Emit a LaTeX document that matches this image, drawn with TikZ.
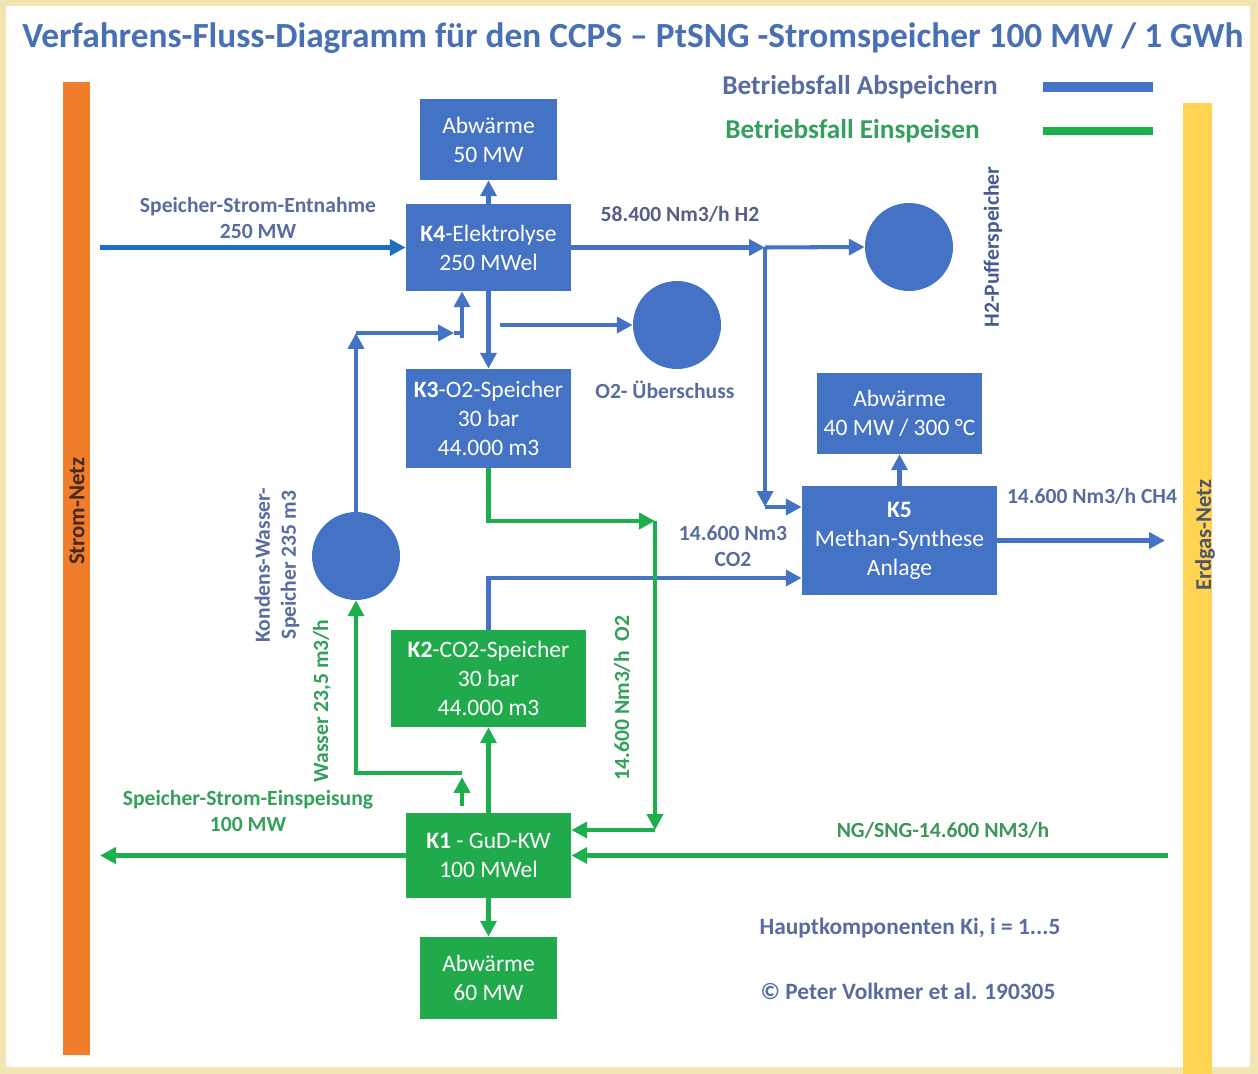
\documentclass[tikz,border=0pt]{standalone}
\usepackage{fontspec}
\setmainfont{Carlito}
\usetikzlibrary{arrows.meta,calc}
\definecolor{boxblue}{HTML}{4472C4}
\definecolor{boxgreen}{HTML}{21AA4C}
\definecolor{lineblue}{HTML}{4472C4}
\definecolor{inblue}{HTML}{1F6FC0}
\definecolor{linegreen}{HTML}{1DAE4E}
\definecolor{titleblue}{RGB}{72,112,182}
\definecolor{lblblue}{RGB}{88,108,160}
\definecolor{lblgreen}{RGB}{52,160,92}
\definecolor{frame}{HTML}{F4E4B4}
\definecolor{stromorange}{HTML}{F07D2C}
\definecolor{gasyellow}{HTML}{FFD452}
\tikzset{
  box/.style={inner sep=0pt, align=center, text=white, font=\fontsize{13.4}{16.5}\selectfont},
  bbox/.style={box, fill=boxblue},
  gbox/.style={box, fill=boxgreen},
  tank/.style={circle, fill=boxblue, minimum size=1.76cm, inner sep=0pt},
  bl/.style={draw=lineblue, line width=2.3pt, -{Triangle[length=9pt,width=9pt]}},
  blp/.style={draw=lineblue, line width=2.3pt},
  gr/.style={draw=linegreen, line width=2.3pt, -{Triangle[length=9pt,width=9pt]}},
  lblb/.style={text=lblblue, font=\fontsize{12.3}{14.8}\selectfont\bfseries, align=center, inner sep=0pt},
  lblg/.style={text=lblgreen, font=\fontsize{12.3}{14.8}\selectfont\bfseries, align=center, inner sep=0pt},
}
\begin{document}
\begin{tikzpicture}[x=0.02cm,y=-0.02cm]
\useasboundingbox (0,0) rectangle (1258,1074);
% frame
\fill[frame] (0,0) rectangle (1258,1074);
\fill[white] (6,6) rectangle (1250,1067);
% title
\node[text=titleblue, font=\fontsize{20.1}{24}\selectfont\bfseries, inner sep=0pt] (title) at (633,38) {Verfahrens-Fluss-Diagramm für den CCPS – PtSNG -Stromspeicher 100 MW / 1 GWh};
% grids
\fill[stromorange] (63,82) rectangle (90,1055);
\node[rotate=90, font=\fontsize{13}{15}\selectfont\bfseries, text={rgb,255:red,70;green,40;blue,20}, inner sep=0pt] (strom) at (77,511) {Strom-Netz};
\fill[gasyellow] (1183,103) rectangle (1212,1074);
\node[rotate=90, font=\fontsize{12.9}{15}\selectfont\bfseries, text={rgb,255:red,80;green,85;blue,110}, inner sep=0pt] (gas) at (1205,535) {Erdgas-Netz};
% legend
\node[text=lblblue, font=\fontsize{15.5}{18}\selectfont\bfseries, anchor=west, inner sep=0pt] (legA) at (722,87) {Betriebsfall Abspeichern};
\node[text=lblgreen, font=\fontsize{15.5}{18}\selectfont\bfseries, anchor=west, inner sep=0pt] (legE) at (725,131) {Betriebsfall Einspeisen};
\coordinate (la1) at (1043,87); \coordinate (la2) at (1153,87);
\coordinate (le1) at (1043,131); \coordinate (le2) at (1153,131);
\draw[lineblue, line width=5.5pt] (la1) -- (la2);
\draw[linegreen, line width=4.6pt] (le1) -- (le2);
% boxes
\node[bbox, minimum width=2.74cm, minimum height=1.62cm] (AbW50) at (488.5,139.5) {Abwärme\\50 MW};
\node[bbox, minimum width=3.3cm, minimum height=1.74cm] (K4) at (488.5,247.5) {\textbf{K4}-Elektrolyse\\250 MWel};
\node[bbox, minimum width=3.3cm, minimum height=1.98cm] (K3) at (488.5,418.5) {\textbf{K3}-O2-Speicher\\30 bar\\44.000 m3};
\node[bbox, minimum width=3.3cm, minimum height=1.62cm] (AbW40) at (899.5,413.5) {Abwärme\\40 MW / 300 °C};
\node[bbox, minimum width=3.9cm, minimum height=2.18cm] (K5) at (899.5,540.5) {\textbf{K5}\\Methan-Synthese\\Anlage};
\node[gbox, minimum width=3.9cm, minimum height=1.94cm] (K2) at (488.5,678.5) {\textbf{K2}-CO2-Speicher\\30 bar\\44.000 m3};
\node[gbox, minimum width=3.3cm, minimum height=1.7cm] (K1) at (488.5,855.5) {\textbf{K1} - GuD-KW\\100 MWel};
\node[gbox, minimum width=2.74cm, minimum height=1.64cm] (AbW60) at (488.5,978) {Abwärme\\60 MW};
% tanks
\node[tank] (H2) at (909,247) {};
\node[tank] (O2) at (677,325) {};
\node[tank] (KW) at (356,556) {};
% labels
\node[lblb] (lEntn) at (258,218) {Speicher-Strom-Entnahme\\250 MW};
\node[lblb, text={rgb,255:red,85;green,95;blue,135}] (lH2) at (680,214) {58.400 Nm3/h H2};
\node[lblb, rotate=90, text={rgb,255:red,70;green,90;blue,150}] (lPuf) at (993,247) {H2-Pufferspeicher};
\node[lblb] (lO2u) at (665,390) {O2- Überschuss};
\node[lblb] (lCO2) at (733,546) {14.600 Nm3\\CO2};
\node[lblb] (lCH4) at (1092,496) {14.600 Nm3/h CH4};
\node[lblb, rotate=90] (lKW) at (277,565) {Kondens-Wasser-\\Speicher 235 m3};
\node[lblg, rotate=90] (lWas) at (322,701) {Wasser 23,5 m3/h};
\node[lblg, rotate=90] (lO2) at (622,698) {14.600 Nm3/h~~O2};
\node[lblg] (lEins) at (248,811) {Speicher-Strom-Einspeisung\\100 MW};
\node[lblg, text={rgb,255:red,60;green,150;blue,90}] (lNG) at (943,830) {NG/SNG-14.600 NM3/h};
\node[lblb, font=\fontsize{13.3}{15}\selectfont\bfseries] (lHaupt) at (910,928) {Hauptkomponenten Ki, i = 1...5};
\node[lblb, font=\fontsize{13.3}{15}\selectfont\bfseries] (lCopy) at (908,991) {© Peter Volkmer et al. 190305};
% coordinates
\coordinate (sIn) at (100,247.5);
\coordinate (jH2) at (765,247.5);
\coordinate (jK5) at (765,507);
\coordinate (o2s) at (500,325);
\coordinate (kwTop) at (356,333);
\coordinate (kwA) at (454,333);
\coordinate (kwB) at (462,333);
\coordinate (co2c) at (488.5,578);
\coordinate (jO2) at (655,521);
\coordinate (jO2b) at (655,830);
\coordinate (wA) at (462,806);
\coordinate (wB) at (462,777);
\coordinate (wC) at (462,773);
\coordinate (wD) at (356,773);
\coordinate (sOut) at (100,855.5);
\coordinate (ngIn) at (1168,855.5);
\coordinate (ch4) at (1165,540.5);
% blue connectors
\draw[bl, draw=inblue] (sIn) -- (K4.west);
\draw[bl] (K4.north) -- (AbW50.south);
\draw[bl] (K4.east) -- (jH2);
\draw[bl] (jH2) -- (H2.west);
\draw[bl] (jH2) -- (jK5);
\draw[bl] (jK5) -- (K5.west |- jK5);
\draw[bl] (K4.south) -- (K3.north);
\draw[bl] (o2s) -- (O2.west);
\draw[bl] (KW.north) -- (kwTop);
\draw[bl] (kwTop) -- (kwA);
\draw[blp] (kwA) -- (kwB);
\draw[bl] ([yshift=-0.1cm]kwB) -- (kwB |- K4.south);
\draw[bl] (K2.north) -- (co2c) -- (K5.west |- co2c);
\draw[bl] (K5.north) -- (AbW40.south);
\draw[bl] (K5.east) -- (ch4);
% green connectors
\draw[gr] (K3.south) |- (jO2);
\draw[gr] (jO2) -- (jO2b);
\draw[gr] (jO2b) -- (K1.east |- jO2b);
\draw[gr] (K1.north) -- (K2.south);
\draw[gr] (wA) -- (wB);
\draw[gr] (wC) -- (wD) -- (KW.south);
\draw[gr] (K1.south) -- (AbW60.north);
\draw[gr] (K1.west) -- (sOut);
\draw[gr] (ngIn) -- (K1.east);
\end{tikzpicture}
\end{document}
